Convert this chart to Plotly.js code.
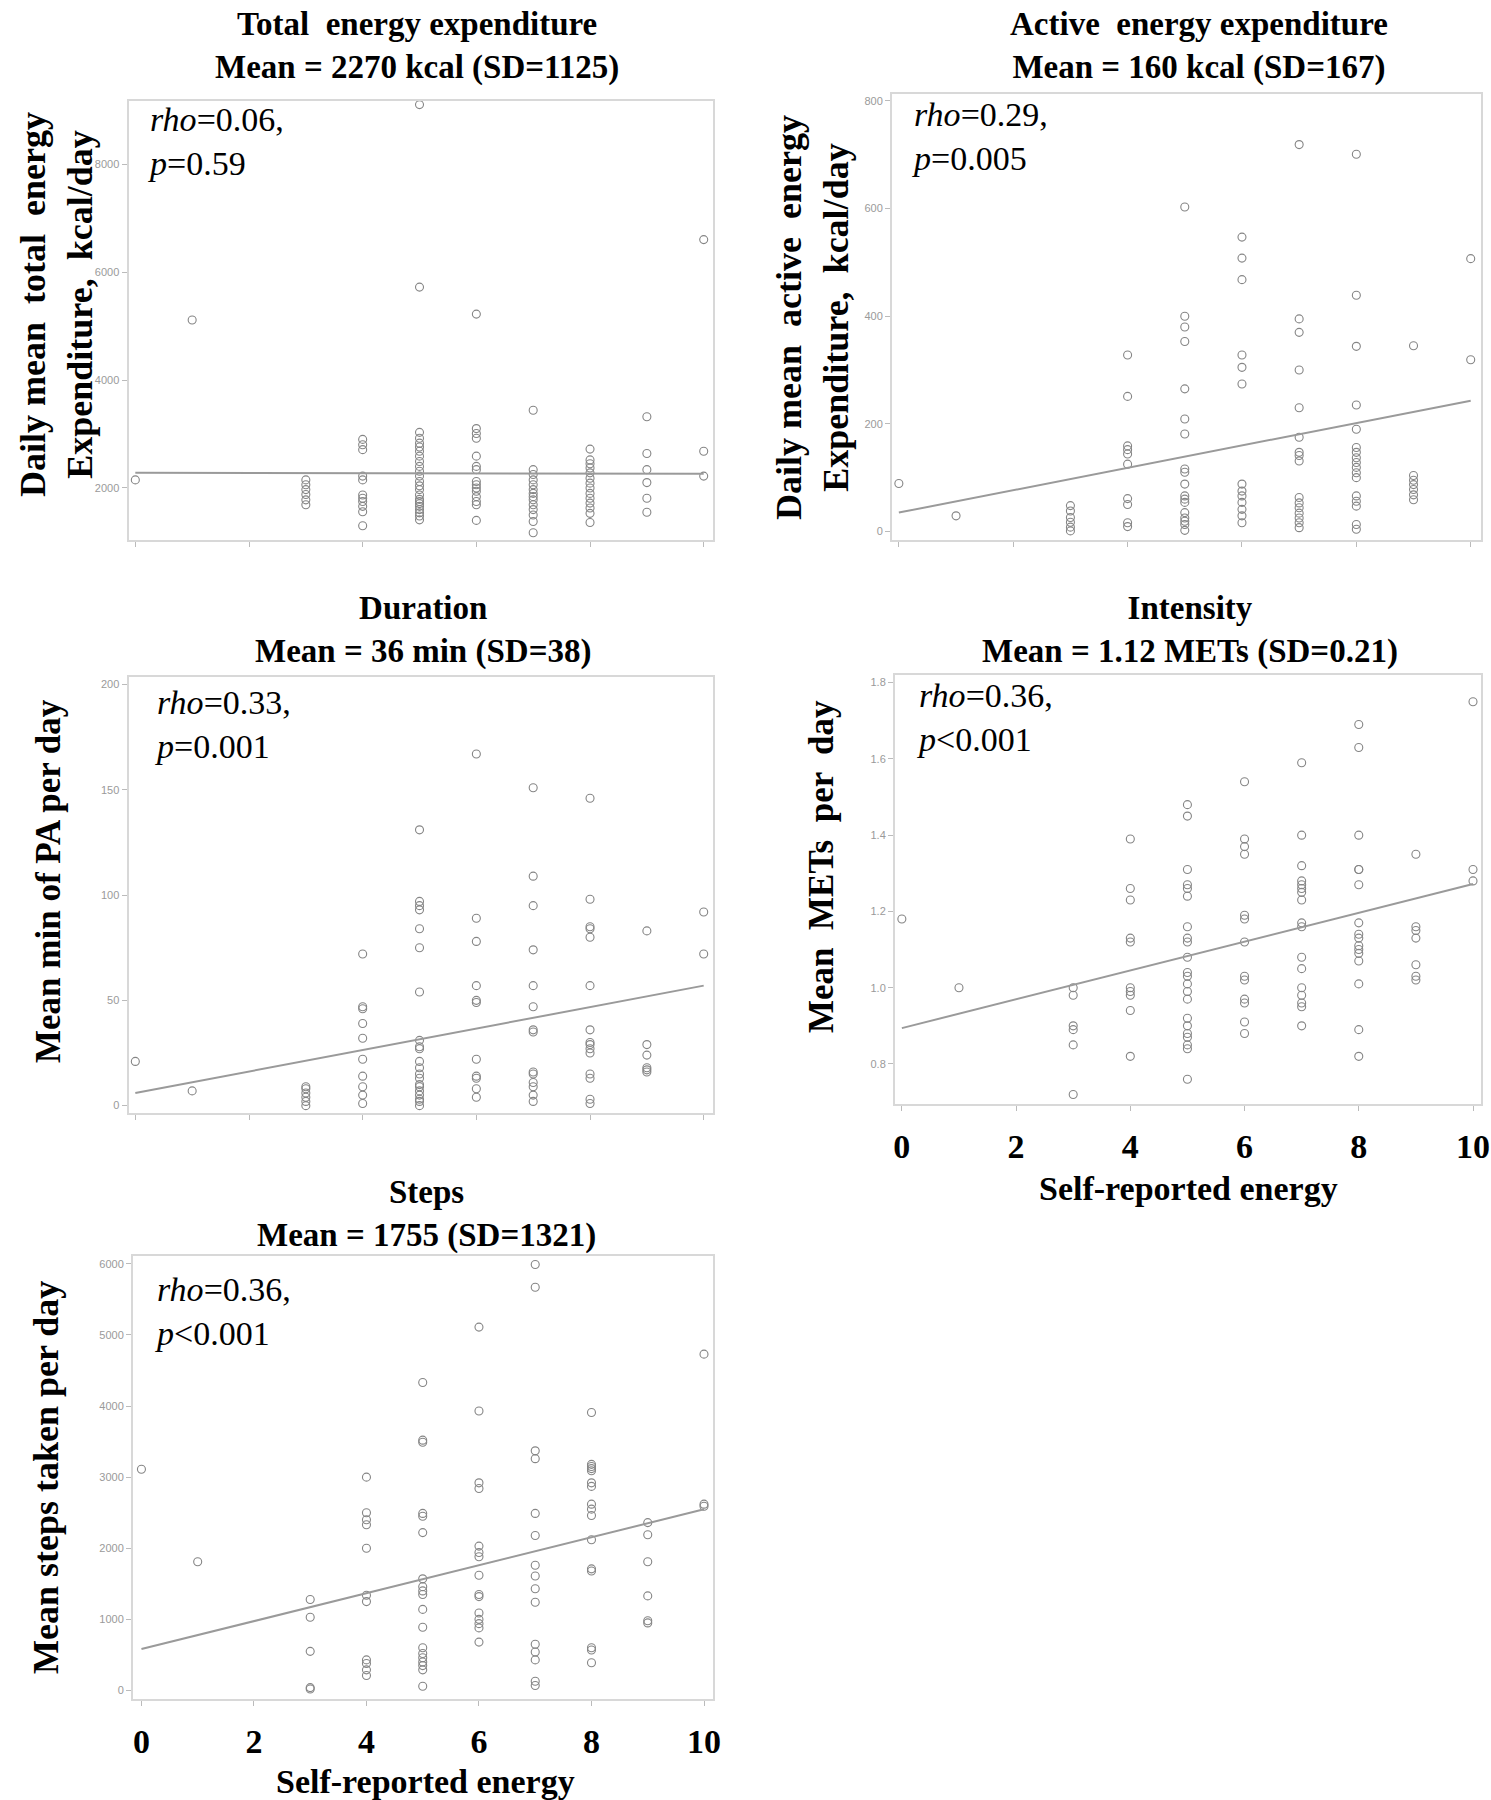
<!DOCTYPE html>
<html>
<head>
<meta charset="utf-8">
<script src="https://cdn.plot.ly/plotly-3.0.1.min.js"></script>
<style>html,body{margin:0;padding:0;background:#fff;}#chart{width:1491px;height:1800px;}</style>
</head>
<body>
<div id="chart"></div>
<script>
// Self-reported energy levels present in the data
const levels = [0, 1, 3, 4, 5, 6, 7, 8, 9, 10];

// Total energy expenditure (kcal/day), grouped by level
const teeVals = [
  [2150],
  [5110],
  [2150, 2060, 1970, 1880, 1780, 1690],
  [2900, 2800, 2710, 2220, 2150, 1870, 1810, 1750, 1660, 1560, 1300],
  [9100, 5720, 3030, 2920, 2830, 2760, 2680, 2590, 2490, 2400, 2310, 2220, 2120, 2040, 1970, 1870, 1790, 1750, 1710, 1660, 1600, 1540, 1480, 1410],
  [5220, 3100, 3010, 2920, 2590, 2400, 2340, 2120, 2060, 2000, 1940, 1840, 1750, 1690, 1400],
  [3440, 2340, 2250, 2150, 2060, 1970, 1900, 1840, 1780, 1690, 1600, 1500, 1380, 1170],
  [2720, 2520, 2450, 2370, 2280, 2180, 2090, 2000, 1900, 1810, 1720, 1630, 1530, 1360],
  [3320, 2640, 2340, 2100, 1810, 1550],
  [6600, 2680, 2220]
];

// Active energy expenditure (kcal/day)
const aeeVals = [
  [89],
  [29],
  [48, 38, 26, 17, 8, 1],
  [328, 251, 159, 152, 144, 125, 61, 50, 16, 9],
  [603, 400, 380, 353, 265, 209, 181, 116, 110, 88, 66, 60, 54, 35, 25, 19, 13, 2],
  [547, 508, 468, 328, 305, 274, 88, 75, 66, 54, 41, 29, 16],
  [719, 395, 370, 300, 230, 175, 147, 141, 131, 63, 53, 44, 34, 25, 16, 7],
  [701, 439, 344, 235, 190, 156, 147, 137, 128, 119, 109, 100, 66, 56, 47, 13, 4],
  [345, 104, 95, 87, 78, 68, 59],
  [507, 319]
];

// Duration: mean min of PA per day
const durVals = [
  [21],
  [7],
  [9, 8, 6, 4, 2, 0],
  [72, 47, 46, 39, 32, 22, 14, 9, 5, 1],
  [131, 97, 95, 93, 84, 75, 54, 31, 28, 27, 21, 18, 15, 13, 10, 9, 7, 5, 3, 2, 0],
  [167, 89, 78, 57, 50, 49, 22, 14, 13, 8, 4],
  [151, 109, 95, 74, 57, 47, 36, 35, 16, 15, 11, 9, 5, 2],
  [146, 98, 85, 84, 80, 57, 36, 30, 29, 27, 25, 15, 13, 3, 1],
  [83, 29, 24, 18, 17, 16],
  [92, 72]
];

// Intensity: mean METs per day
const metVals = [
  [1.18],
  [1.00],
  [1.00, 0.98, 0.90, 0.89, 0.85, 0.72],
  [1.39, 1.26, 1.23, 1.13, 1.12, 1.00, 0.99, 0.98, 0.94, 0.82],
  [1.48, 1.45, 1.31, 1.27, 1.26, 1.24, 1.16, 1.13, 1.12, 1.08, 1.04, 1.03, 1.01, 0.99, 0.97, 0.92, 0.90, 0.88, 0.87, 0.85, 0.84, 0.76],
  [1.54, 1.39, 1.37, 1.35, 1.19, 1.18, 1.12, 1.03, 1.02, 0.97, 0.96, 0.91, 0.88],
  [1.59, 1.40, 1.32, 1.28, 1.27, 1.26, 1.25, 1.23, 1.17, 1.16, 1.08, 1.05, 1.00, 0.98, 0.96, 0.95, 0.90],
  [1.69, 1.63, 1.40, 1.31, 1.31, 1.27, 1.17, 1.14, 1.13, 1.11, 1.10, 1.09, 1.07, 1.01, 0.89, 0.82],
  [1.35, 1.16, 1.15, 1.13, 1.06, 1.03, 1.02],
  [1.75, 1.31, 1.28]
];

// Steps: mean steps taken per day
const stepVals = [
  [3110],
  [1810],
  [1280, 1030, 550, 40, 20],
  [3000, 2500, 2400, 2330, 2000, 1340, 1250, 430, 380, 290, 210],
  [4330, 3520, 3490, 2490, 2450, 2220, 1570, 1460, 1400, 1350, 1140, 890, 600, 520, 460, 400, 350, 290, 60],
  [5110, 3930, 2920, 2840, 2030, 1940, 1880, 1620, 1350, 1320, 1090, 1000, 940, 880, 680],
  [5990, 5670, 3370, 3260, 2490, 2180, 1760, 1610, 1430, 1240, 650, 540, 430, 130, 70],
  [3910, 3180, 3150, 3120, 3090, 2920, 2870, 2620, 2550, 2460, 2120, 1710, 1680, 600, 570, 390],
  [2360, 2190, 1810, 1330, 980, 950],
  [4730, 2620, 2590]
];

// Fitted regression lines (endpoints at energy 0 and 10)
const fitX = [0, 10];
const teeFit = [2280, 2265];
const aeeFit = [35, 243];
const durFit = [6, 57];
const metFit = [0.894, 1.272];
const stepFit = [582, 2548];

// Texts
const panelTitles = [
  "Total  energy expenditure<br>Mean = 2270 kcal (SD=1125)",
  "Active  energy expenditure<br>Mean = 160 kcal (SD=167)",
  "Duration<br>Mean = 36 min (SD=38)",
  "Intensity<br>Mean = 1.12 METs (SD=0.21)",
  "Steps<br>Mean = 1755 (SD=1321)"
];
const statTexts = [
  "<i>rho</i>=0.06,<br><i>p</i>=0.59",
  "<i>rho</i>=0.29,<br><i>p</i>=0.005",
  "<i>rho</i>=0.33,<br><i>p</i>=0.001",
  "<i>rho</i>=0.36,<br><i>p</i>&lt;0.001",
  "<i>rho</i>=0.36,<br><i>p</i>&lt;0.001"
];
const yTitles = [
  "Daily mean  total  energy<br>Expenditure,  kcal/day",
  "Daily mean  active  energy<br>Expenditure,  kcal/day",
  "Mean min of PA per day",
  "Mean  METs  per  day",
  "Mean steps taken per day"
];
const xTitle = "Self-reported energy";
const yTickVals = [
  [2000, 4000, 6000, 8000],
  [0, 200, 400, 600, 800],
  [0, 50, 100, 150, 200],
  [0.8, 1.0, 1.2, 1.4, 1.6, 1.8],
  [0, 1000, 2000, 3000, 4000, 5000, 6000]
];
const xTickVals = [0, 2, 4, 6, 8, 10];

// ---------- build ----------
const W = 1491, H = 1800;
const px = v => v / W;
const py = v => 1 - v / H;

const series = [teeVals, aeeVals, durVals, metVals, stepVals];
const fits = [teeFit, aeeFit, durFit, metFit, stepFit];

// layout geometry (pixels): [left, right, top, bottom]
const boxes = [
  [128.5, 712.8, 101, 539.5],
  [892, 1481, 94, 539.5],
  [128.5, 712.8, 677, 1113],
  [895, 1481, 675, 1104],
  [133, 713, 1256, 1699]
];
const xRanges = [[-0.12, 10.16], [-0.12, 10.18], [-0.12, 10.16], [-0.12, 10.14], [-0.15, 10.16]];
const yRanges = [[1046, 9167], [-15, 813], [-3.5, 203.6], [0.695, 1.82], [-120, 6110]];
const yTickFmt = [null, null, null, ".1f", null];

const titlePos = [[417, 46], [1199, 46], [423, 630], [1190, 630], [426, 1214]];
const statPos = [[146, 141], [910, 136], [153, 724], [915, 717], [153, 1311]];
const yTitlePos = [[56, 305], [813, 318], [48, 881], [821, 867], [46, 1478]];
const yTitleSize = [36, 36, 35, 35, 36];
const showXLabels = [false, false, false, true, true];
const xTitlePos = [null, null, null, [1188, 1188], [425, 1781]];

const serif = "Liberation Serif, Times New Roman, serif";
const traces = [];
const layout = {
  width: W, height: H,
  margin: {l: 0, r: 0, t: 0, b: 0},
  paper_bgcolor: "#fff", plot_bgcolor: "#fff",
  showlegend: false,
  annotations: []
};

series.forEach((vals, i) => {
  const xs = [], ys = [];
  vals.forEach((arr, j) => arr.forEach(v => { xs.push(levels[j]); ys.push(v); }));
  const sfx = i === 0 ? "" : String(i + 1);
  traces.push({
    type: "scatter", mode: "markers", x: xs, y: ys,
    xaxis: "x" + sfx, yaxis: "y" + sfx,
    marker: {symbol: "circle-open", size: 8, color: "#858585", line: {width: 1.1, color: "#858585"}},
    hoverinfo: "x+y"
  });
  traces.push({
    type: "scatter", mode: "lines", x: fitX, y: fits[i],
    xaxis: "x" + sfx, yaxis: "y" + sfx,
    line: {color: "#9a9a9a", width: 2}
  });
  const b = boxes[i];
  layout["xaxis" + sfx] = {
    domain: [px(b[0]), px(b[1])], anchor: "y" + sfx,
    range: xRanges[i], tickvals: xTickVals,
    showticklabels: showXLabels[i],
    tickfont: {family: serif, size: 34, color: "#000", weight: "bold"},
    ticks: "outside", ticklen: 5, tickwidth: 1, tickcolor: "#bbb",
    ticklabelstandoff: 6,
    showline: true, mirror: true, linecolor: "#d8d8d8", linewidth: 2,
    showgrid: false, zeroline: false, fixedrange: true
  };
  layout["yaxis" + sfx] = {
    domain: [py(b[3]), py(b[2])], anchor: "x" + sfx,
    range: yRanges[i], tickvals: yTickVals[i],
    tickformat: yTickFmt[i] || "",
    tickfont: {family: "Liberation Sans, Arial, sans-serif", size: 11, color: "#9a9a9a"},
    ticks: "outside", ticklen: 5, tickwidth: 1, tickcolor: "#bbb",
    showline: true, mirror: true, linecolor: "#d8d8d8", linewidth: 2,
    showgrid: false, zeroline: false, fixedrange: true
  };

  layout.annotations.push({
    xref: "paper", yref: "paper", x: px(titlePos[i][0]), y: py(titlePos[i][1]),
    xanchor: "center", yanchor: "middle", showarrow: false, align: "center",
    text: panelTitles[i],
    font: {family: serif, size: 33, color: "#000", weight: "bold"}
  });
  layout.annotations.push({
    xref: "paper", yref: "paper", x: px(statPos[i][0]), y: py(statPos[i][1]),
    xanchor: "left", yanchor: "middle", showarrow: false, align: "left",
    text: statTexts[i],
    font: {family: serif, size: 34, color: "#000"}
  });
  layout.annotations.push({
    xref: "paper", yref: "paper", x: px(yTitlePos[i][0]), y: py(yTitlePos[i][1]),
    xanchor: "center", yanchor: "middle", showarrow: false, align: "center",
    textangle: -90, text: yTitles[i],
    font: {family: serif, size: yTitleSize[i], color: "#000", weight: "bold"}
  });
  if (xTitlePos[i]) {
    layout.annotations.push({
      xref: "paper", yref: "paper", x: px(xTitlePos[i][0]), y: py(xTitlePos[i][1]),
      xanchor: "center", yanchor: "middle", showarrow: false,
      text: xTitle,
      font: {family: serif, size: 34, color: "#000", weight: "bold"}
    });
  }
});

Plotly.newPlot("chart", traces, layout, {staticPlot: true, displayModeBar: false});
</script>
</body>
</html>
